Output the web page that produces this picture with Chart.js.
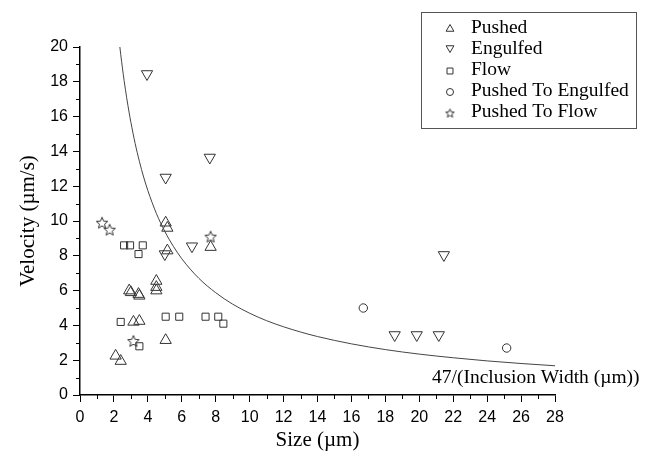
<!DOCTYPE html>
<html>
<head>
<meta charset="utf-8">
<script src="https://cdn.jsdelivr.net/npm/chart.js@4.4.0/dist/chart.umd.min.js"></script>
<style>
    html, body { margin: 0; padding: 0; background: #fff; }
</style>
</head>
<body>
<canvas id="grafico" width="649" height="455"></canvas>
<script>
// Dados
const pushedX = [5.05, 5.15, 5.15, 7.7, 4.5, 4.5, 4.5, 2.9, 3.0, 3.45, 3.5, 3.15, 3.5, 5.05, 2.1, 2.4];
const pushedY = [9.9, 9.6, 8.3, 8.5, 6.55, 6.2, 6.0, 6.0, 5.9, 5.8, 5.7, 4.2, 4.25, 3.15, 2.25, 1.95];

const engulfedX = [3.95, 7.65, 5.05, 5.0, 6.6, 21.45, 18.55, 19.85, 21.15];
const engulfedY = [18.45, 13.65, 12.5, 8.1, 8.55, 8.05, 3.45, 3.45, 3.45];

const flowX = [2.6, 2.95, 3.7, 3.45, 2.4, 5.05, 5.85, 7.4, 8.15, 8.45, 3.5];
const flowY = [8.6, 8.6, 8.6, 8.1, 4.2, 4.5, 4.5, 4.5, 4.5, 4.1, 2.8];

const pushedToEngulfedX = [16.7, 25.15];
const pushedToEngulfedY = [5.0, 2.7];

const pushedToFlowX = [1.3, 1.75, 7.7, 3.15];
const pushedToFlowY = [9.9, 9.5, 9.1, 3.1];

// Curva 47/(Inclusion Width)
const curvaX = [2.35, 2.4, 2.5, 2.6, 2.75, 2.9, 3, 3.25, 3.5, 3.75, 4, 4.5, 5, 5.5, 6, 7, 8, 9, 10, 11, 12, 13, 14, 16, 18, 20, 22, 24, 26, 28];
const curvaY = [20, 19.58, 18.8, 18.08, 17.09, 16.21, 15.67, 14.46, 13.43, 12.53, 11.75, 10.44, 9.4, 8.55, 7.83, 6.71, 5.88, 5.22, 4.7, 4.27, 3.92, 3.62, 3.36, 2.94, 2.61, 2.35, 2.14, 1.96, 1.81, 1.68];

const xTicks = [0, 2, 4, 6, 8, 10, 12, 14, 16, 18, 20, 22, 24, 26, 28];
const yTicks = [0, 2, 4, 6, 8, 10, 12, 14, 16, 18, 20];

const legendas = ["Pushed", "Engulfed", "Flow", "Pushed To Engulfed", "Pushed To Flow"];
const rotuloCurva = "47/(Inclusion Width (\u00b5m))";

const COR = '#333';
const SERIF = '"Liberation Serif", "Times New Roman", serif';
const SANS = '"Liberation Sans", Arial, sans-serif';

// Função para juntar x e y em pontos
function pontos(xs, ys) {
    return xs.map((x, i) => ({ x: x, y: ys[i] }));
}

// Função para desenhar a estrela
function criarEstrela(r) {
    const s = Math.ceil(r * 2 + 4);
    const c = document.createElement('canvas');
    c.width = s; c.height = s;
    const ctx = c.getContext('2d');
    ctx.translate(s / 2, s / 2 + 0.5);
    ctx.beginPath();
    for (let i = 0; i < 10; i++) {
        const a = -Math.PI / 2 + i * Math.PI / 5;
        const rr = i % 2 ? r * 0.45 : r;
        ctx.lineTo(Math.cos(a) * rr, Math.sin(a) * rr);
    }
    ctx.closePath();
    ctx.strokeStyle = COR;
    ctx.lineWidth = 1;
    ctx.stroke();
    return c;
}

const estrela = criarEstrela(6);
const estrelaPequena = criarEstrela(4.5);

// Ticks menores e legenda
const extras = {
    id: 'extras',
    afterDraw(chart) {
        const ctx = chart.ctx;
        const sx = chart.scales.x, sy = chart.scales.y;
        const area = chart.chartArea;
        ctx.save();
        ctx.strokeStyle = '#000';
        ctx.lineWidth = 1;
        ctx.beginPath();
        for (let v = 1; v < 28; v += 2) {
            const px = Math.round(sx.getPixelForValue(v)) + 0.5;
            ctx.moveTo(px, area.bottom);
            ctx.lineTo(px, area.bottom + 4);
        }
        for (let v = 1; v < 20; v += 2) {
            const py = Math.round(sy.getPixelForValue(v)) + 0.5;
            ctx.moveTo(area.left, py);
            ctx.lineTo(area.left - 4, py);
        }
        ctx.stroke();

        // caixa da legenda
        ctx.strokeStyle = '#555';
        ctx.strokeRect(421.5, 12.5, 215, 116);
        ctx.font = '19.5px ' + SERIF;
        ctx.textBaseline = 'middle';
        const estilos = [
            { s: 'triangle', r: 4.5, rot: 0 },
            { s: 'triangle', r: 4.5, rot: 180 },
            { s: 'rect', r: 4.2, rot: 0 },
            { s: 'circle', r: 3.5, rot: 0 },
            { s: estrelaPequena, r: 4, rot: 0 }
        ];
        legendas.forEach((txt, i) => {
            const y = 28 + i * 21;
            const e = estilos[i];
            ctx.fillStyle = 'rgba(0,0,0,0)';
            ctx.strokeStyle = COR;
            ctx.lineWidth = 1;
            Chart.helpers.drawPoint(ctx, {
                pointStyle: e.s, radius: e.r, rotation: e.rot, borderWidth: 1
            }, 450, e.rot ? y - 1 : y + 1);
            ctx.fillStyle = '#000';
            ctx.fillText(txt, 471, y);
        });
        ctx.fillStyle = '#000';
        ctx.fillText(rotuloCurva, 432, 378);
        ctx.restore();
    }
};

// Inicialização
document.addEventListener('DOMContentLoaded', () => {
    const ctx = document.getElementById('grafico').getContext('2d');
    const base = {
        type: 'scatter',
        showLine: false,
        borderColor: COR,
        backgroundColor: 'rgba(0,0,0,0)',
        borderWidth: 1,
        pointHoverRadius: 0
    };
    new Chart(ctx, {
        type: 'scatter',
        data: {
            datasets: [
                {
                    type: 'line',
                    label: 'curva',
                    data: pontos(curvaX, curvaY),
                    borderColor: '#444',
                    borderWidth: 1,
                    pointRadius: 0,
                    cubicInterpolationMode: 'monotone',
                    fill: false
                },
                Object.assign({}, base, { label: legendas[0], data: pontos(pushedX, pushedY), pointStyle: 'triangle', pointRadius: 6.5 }),
                Object.assign({}, base, { label: legendas[1], data: pontos(engulfedX, engulfedY), pointStyle: 'triangle', pointRadius: 6.5, rotation: 180 }),
                Object.assign({}, base, { label: legendas[2], data: pontos(flowX, flowY), pointStyle: 'rect', pointRadius: 5 }),
                Object.assign({}, base, { label: legendas[3], data: pontos(pushedToEngulfedX, pushedToEngulfedY), pointStyle: 'circle', pointRadius: 4.2 }),
                Object.assign({}, base, { label: legendas[4], data: pontos(pushedToFlowX, pushedToFlowY), pointStyle: estrela, pointRadius: 6 })
            ]
        },
        options: {
            responsive: false,
            animation: false,
            events: [],
            layout: { padding: { left: 0, top: 47, right: 94, bottom: 0 } },
            plugins: { legend: { display: false }, tooltip: { enabled: false } },
            scales: {
                x: {
                    type: 'linear', min: 0, max: 28,
                    afterBuildTicks: s => { s.ticks = xTicks.map(v => ({ value: v })); },
                    afterFit: s => { s.height = 60; },
                    grid: { drawOnChartArea: false, tickLength: 7, color: '#000', tickWidth: 1 },
                    border: { color: '#000', width: 1.5 },
                    ticks: { color: '#000', font: { family: SANS, size: 16 }, padding: 6, maxRotation: 0, autoSkip: false },
                    title: { display: true, text: 'Size (\u00b5m)', color: '#000', font: { family: SERIF, size: 21 }, padding: { top: 0, bottom: 2 } }
                },
                y: {
                    type: 'linear', min: 0, max: 20,
                    afterBuildTicks: s => { s.ticks = yTicks.map(v => ({ value: v })); },
                    afterFit: s => { s.width = 80; },
                    grid: { drawOnChartArea: false, tickLength: 7, color: '#000', tickWidth: 1 },
                    border: { color: '#000', width: 1.5 },
                    ticks: { color: '#000', font: { family: SANS, size: 16 }, padding: 5 },
                    title: { display: true, text: 'Velocity (\u00b5m/s)', color: '#000', font: { family: SERIF, size: 21 }, padding: { top: 16, bottom: 0 } }
                }
            }
        },
        plugins: [extras]
    });
});
</script>
</body>
</html>
